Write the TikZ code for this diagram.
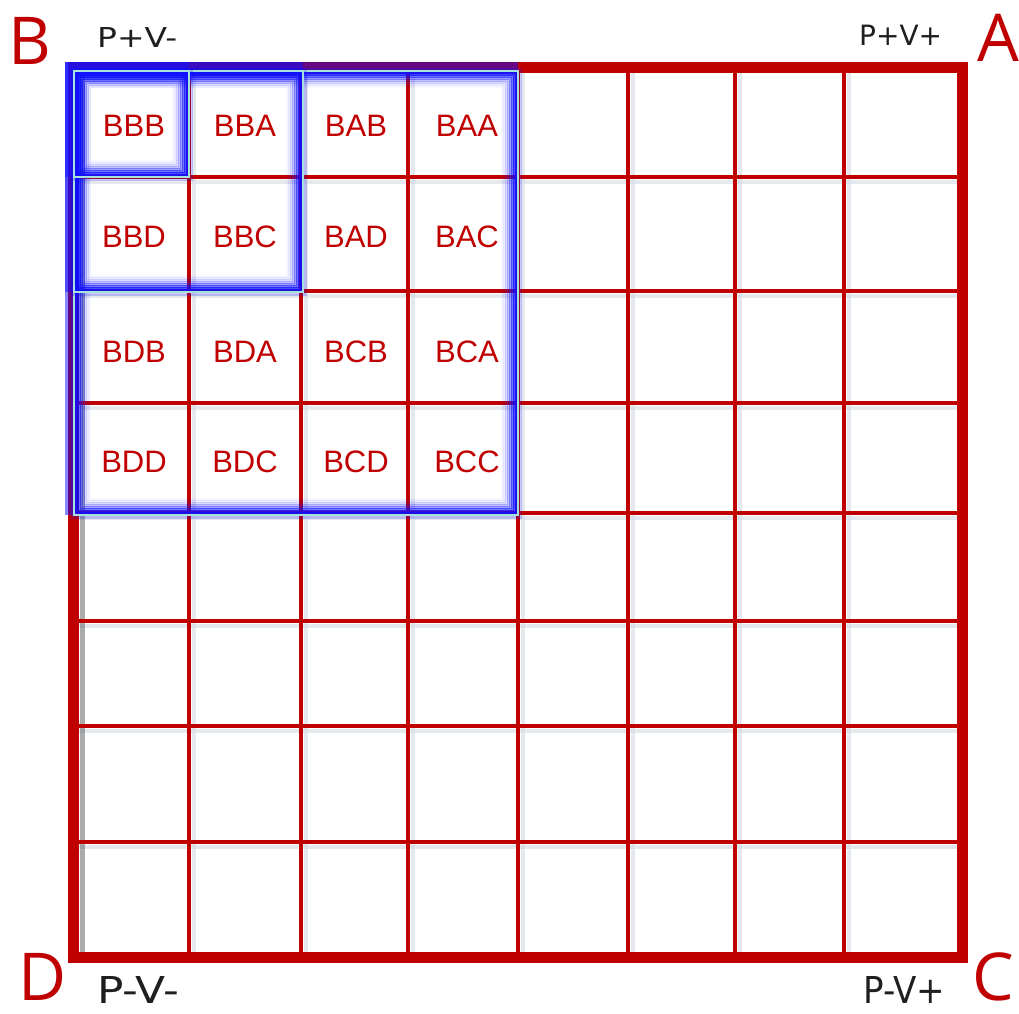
\documentclass[tikz,border=0pt]{standalone}
\usepackage{fontspec}
\usepackage{tikz}
\usetikzlibrary{positioning}
\usepackage{xcolor}
\newfontfamily\cellfont{Liberation Sans}
\newfontfamily\cornerfont{Open Sans}
\newfontfamily\signfont{DejaVu Sans}
\definecolor{gridred}{HTML}{C00000}
\definecolor{glowblue}{HTML}{1010FF}
\definecolor{edgecyan}{HTML}{A6E3DC}
\definecolor{shade}{HTML}{D3DAE3}
\tikzset{gridline/.style={draw=gridred,line width=4pt},gridframe/.style={draw=gridred,line width=11pt},gridshade/.style={draw=shade,line width=4pt,opacity=.6},glowouter/.style={draw=glowblue,line width=9pt,opacity=.5},glowedge/.style={draw=edgecyan,line width=1.4pt},celltext/.style={font=\cellfont\fontsize{31}{31}\selectfont,text=gridred,inner sep=0pt},cornertext/.style={font=\cornerfont\fontsize{66}{66}\selectfont,text=gridred,inner sep=0pt,anchor=base west},signtext/.style={font=\signfont\fontsize{28}{28}\selectfont,text=black!88,inner sep=0pt,anchor=base west}}

\begin{document}
\begin{tikzpicture}[x=1pt,y=-1pt]
\useasboundingbox (0,0) rectangle (1019,1013);
\clip (0,0) rectangle (1019,1013);
% soft shade beside the lines
\foreach \gx in {189,301,408,518,628,735,844} \draw[gridshade] (\gx+5,67) -- (\gx+5,957);
\foreach \gy in {177,291,403,513,621,726,842} \draw[gridshade] (73,\gy+5) -- (962,\gy+5);
\draw[draw=black!60,line width=5pt,opacity=.55] (82,67) -- (82,957);
% red grid
\foreach \gx in {189,301,408,518,628,735,844} \draw[gridline] (\gx,67) -- (\gx,957);
\foreach \gy in {177,291,403,513,621,726,842} \draw[gridline] (73,\gy) -- (962,\gy);
\draw[gridframe] (73,67) rectangle (962,957);
% blue highlighted blocks
\foreach \bx/\by in {518/515,303/292,189/177} {
  \draw[glowouter] (\bx,66) -- (69,66) -- (69,\by);
  \draw[glowblue,line width=7pt,opacity=.22] (74,71) rectangle (\bx,\by);
  \foreach \d/\op in {1.5/.85,3.5/.75,5.5/.58,7.5/.4,9.5/.26,11.5/.15,13.5/.08,15.5/.04}
    \draw[glowblue,line width=2.8pt,opacity=\op] (74+\d,71+\d) rectangle (\bx-\d,\by-\d);
  \draw[glowedge] (74,71) rectangle (\bx,\by);
}
% cell names
\foreach \ly/\rowlbls in {126/{BBB,BBA,BAB,BAA},237/{BBD,BBC,BAD,BAC},352/{BDB,BDA,BCB,BCA},462/{BDD,BDC,BCD,BCC}}
  \foreach \lbl [count=\c] in \rowlbls
    \node[celltext] (c\lbl) at (23+111*\c,\ly) {\lbl};
% corners
\node[cornertext] (cornerB) at (8.5,64) {B};
\node[cornertext] (cornerA) at (977,61) {A};
\node[cornertext] (cornerD) at (18.5,1000) {D};
\node[cornertext] (cornerC) at (972,1000) {C};
\node[signtext] (signBL) at (97,47) {\resizebox{80pt}{20pt}{P+V-}};
\node[signtext] (signAR) at (859,45) {P+V+};
\node[signtext] (signDL) at (97,1003) {\resizebox{82pt}{27pt}{P-V-}};
\node[signtext] (signCR) at (863,1003) {\resizebox{82pt}{27pt}{P-V+}};
\end{tikzpicture}
\end{document}
